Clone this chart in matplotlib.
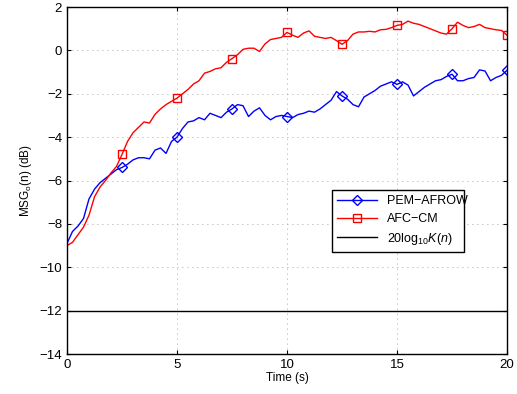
import matplotlib

matplotlib.use("Agg")
import numpy as np
from matplotlib import pyplot as plt

plt.rcParams["font.family"] = ["Liberation Sans", "DejaVu Sans"]
plt.rcParams["mathtext.fontset"] = "custom"
plt.rcParams["mathtext.rm"] = "Liberation Sans"
plt.rcParams["mathtext.it"] = "Liberation Sans:italic"

# time grid (s), one value every 0.25 s
time_s = np.arange(0, 20.01, 0.25)

afc_cm = [
    -9.0, -8.85, -8.5, -8.15, -7.6, -6.75, -6.3, -6.0, -5.65, -5.35,
    -4.8, -4.2, -3.8, -3.55, -3.3, -3.35, -2.95, -2.7, -2.5, -2.35,
    -2.2, -2.0, -1.8, -1.55, -1.4, -1.05, -0.97, -0.85, -0.8, -0.55,
    -0.38, -0.2, 0.05, 0.1, 0.1, -0.05, 0.3, 0.5, 0.55, 0.6,
    0.83, 0.7, 0.6, 0.8, 0.9, 0.65, 0.6, 0.55, 0.6, 0.45,
    0.28, 0.45, 0.75, 0.85, 0.85, 0.88, 0.85, 0.95, 0.97, 1.05,
    1.15, 1.2, 1.35, 1.25, 1.2, 1.1, 1.0, 0.9, 0.8, 0.75,
    1.0, 1.3, 1.15, 1.05, 1.1, 1.2, 1.05, 1.0, 0.95, 0.92,
    0.7,
]

pem_afrow = [
    -8.9, -8.35, -8.1, -7.75, -6.85, -6.4, -6.1, -5.9, -5.7, -5.5,
    -5.4, -5.25, -5.05, -4.95, -4.95, -5.0, -4.6, -4.5, -4.75, -4.2,
    -4.0, -3.6, -3.3, -3.25, -3.1, -3.2, -2.9, -3.0, -3.1, -2.85,
    -2.7, -2.5, -2.55, -3.05, -2.8, -2.65, -3.0, -3.2, -3.05, -3.0,
    -3.05, -3.1, -2.96, -2.9, -2.8, -2.85, -2.7, -2.5, -2.3, -1.9,
    -2.1, -2.25, -2.5, -2.6, -2.15, -2.0, -1.85, -1.65, -1.55, -1.45,
    -1.57, -1.45, -1.6, -2.1, -1.9, -1.7, -1.55, -1.4, -1.35, -1.2,
    -1.1, -1.4, -1.4, -1.3, -1.25, -0.9, -0.95, -1.4, -1.25, -1.15,
    -0.92,
]

k_time = [0, 20]
k_db = [-12, -12]

fig = plt.figure(figsize=(5.17, 3.94), dpi=100)
ax = fig.add_axes([0.1296, 0.1015, 0.8511, 0.8807])

marks = list(range(10, len(time_s), 10))
ax.plot(time_s, pem_afrow, color="#0000FF", linewidth=1.0, marker="D",
        markersize=5.5, markerfacecolor="none", markeredgewidth=1.0,
        markevery=marks, label="PEM\u2212AFROW")
ax.plot(time_s, afc_cm, color="#FF0000", linewidth=1.0, marker="s",
        markersize=6, markerfacecolor="none", markeredgewidth=1.0,
        markevery=marks, label="AFC\u2212CM")
ax.plot(k_time, k_db, color="black", linewidth=1.0,
        label=r"20log$_{10}$$\mathit{K(n)}$")

ax.set_xlim(0, 20)
ax.set_ylim(-14, 2)
ax.set_xticks([0, 5, 10, 15, 20])
ax.set_yticks(range(-14, 3, 2))
ax.grid(True, color="#8a8a8a", linestyle=(0, (1, 5)), linewidth=0.6)
ax.tick_params(direction="in", top=True, right=True, labelsize=9.5, length=3)
for spine in ax.spines.values():
    spine.set_linewidth(1.0)

ax.set_xlabel("Time (s)", fontsize=8.5, labelpad=1)
ax.set_ylabel(r"MSG$_\mathrm{o}$(n) (dB)", fontsize=8.5, labelpad=4)

leg = ax.legend(loc="lower left", bbox_to_anchor=(0.589, 0.277, 0.327, 0.196),
                mode="expand", fontsize=9, fancybox=False, framealpha=1,
                edgecolor="black", handlelength=3.2, borderpad=0.4,
                labelspacing=0.45)
leg.get_frame().set_linewidth(1.0)

fig.savefig("out.png", dpi=100)
